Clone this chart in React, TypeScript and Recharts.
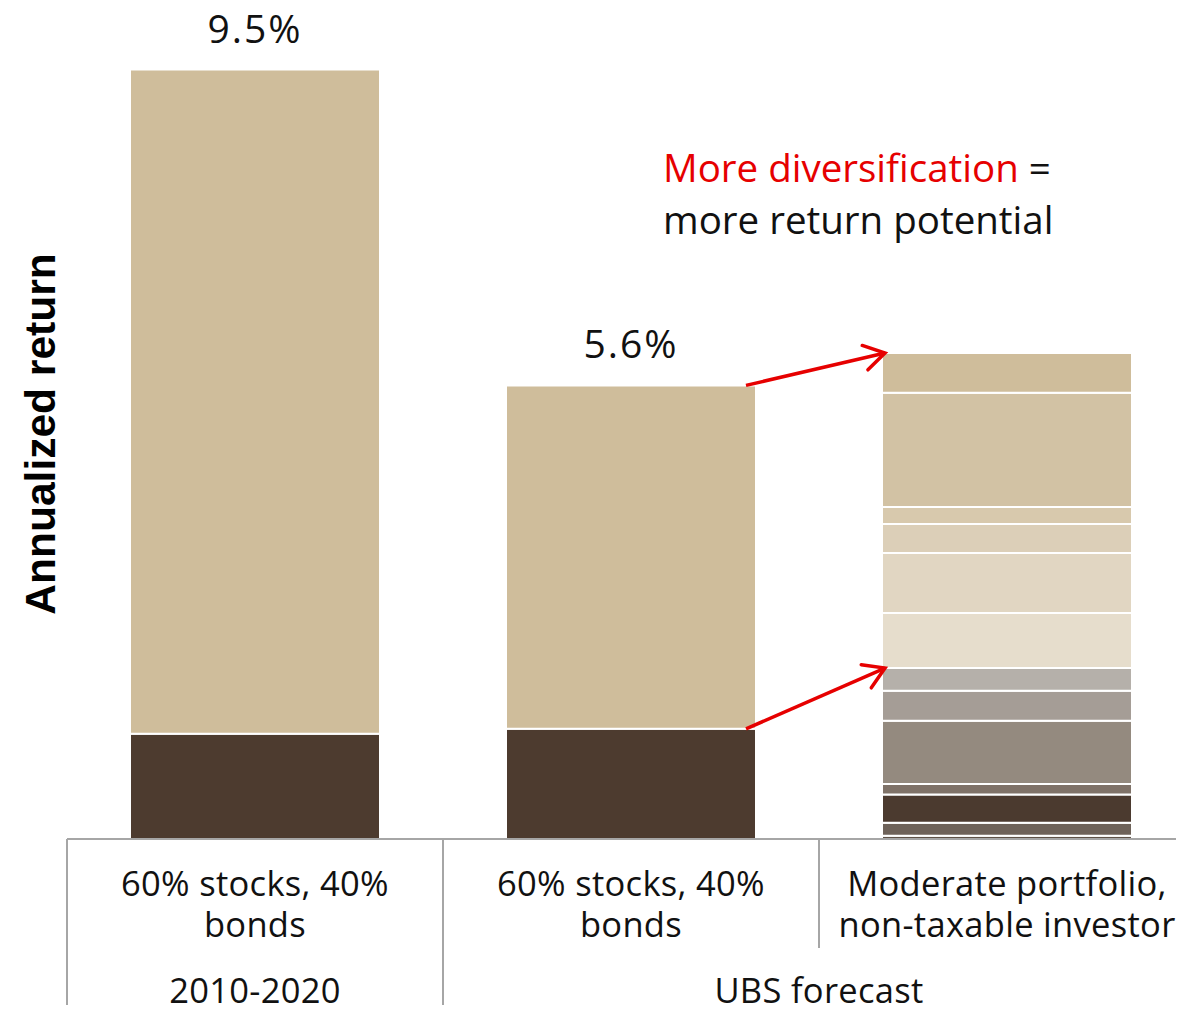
import React from 'react';
import { BarChart, Bar, XAxis, YAxis, LabelList, ReferenceLine } from 'recharts';

// categories on the x axis
const categories = ['hist6040', 'ubs6040', 'ubsModerate'];
const categoryLine1 = ['60% stocks, 40%', '60% stocks, 40%', 'Moderate portfolio,'];
const categoryLine2 = ['bonds', 'bonds', 'non-taxable investor'];
const periodLabels = ['2010-2020', 'UBS forecast'];

// annualized return contributions, in %
const bondReturn = [1.3, 1.36, 0];
const stockReturn = [8.2, 4.24, 0];
// moderate portfolio building blocks, bottom to top
const moderateBlocks = [0.04, 0.16, 0.35, 0.13, 0.78, 0.37, 0.28, 0.68, 0.74, 0.36, 0.21, 1.41, 0.49];
const lowerBlockCount = 7;

const BAR_SIZE = 250;
const FONT = '"Open Sans", "Noto Sans", sans-serif';
const RED = '#e60000';
const AXIS_GREY = '#a6a6a6';

const blockColors = [
  '#5e5147', '#6e6259', '#4b3a2f', '#7f7268', '#948a7f', '#a59d96', '#b5b0aa',
  '#e6ddcc', '#e1d6c2', '#dccfb8', '#d8c9ad', '#d2c2a4', '#cfbd9b',
];

const sum = (arr: number[]) => arr.reduce((a, b) => a + b, 0);
const totals = categories.map((_, i) => bondReturn[i] + stockReturn[i] + (i === 2 ? sum(moderateBlocks) : 0));

const data = categories.map((key, i) => {
  const row: any = { key, bonds: bondReturn[i], stocks: stockReturn[i] };
  moderateBlocks.forEach((v, j) => {
    row[`m${j}`] = i === 2 ? v : 0;
  });
  return row;
});

const CategoryTick = (props: any) => {
  const { x, y, payload, index } = props;
  const half = payload && payload.offset ? payload.offset : 188;
  const left = x - half;
  const textStyle = { fontFamily: FONT, fontSize: 34.5, letterSpacing: 0.3, fill: '#111' };
  return (
    <g>
      <line x1={left} x2={left} y1={y} y2={index === 2 ? y + 109 : y + 180} stroke={AXIS_GREY} strokeWidth={2} />
      <text x={x} y={y + 57} textAnchor="middle" style={textStyle}>{categoryLine1[index]}</text>
      <text x={x} y={y + 98} textAnchor="middle" style={textStyle}>{categoryLine2[index]}</text>
      {index === 0 && (
        <text x={x} y={y + 164} textAnchor="middle" style={textStyle}>{periodLabels[0]}</text>
      )}
      {index === 1 && (
        <text x={x + half} y={y + 164} textAnchor="middle" style={textStyle}>{periodLabels[1]}</text>
      )}
    </g>
  );
};

const TotalLabel = (which: number[]) => (props: any) => {
  const { index } = props;
  if (!which.includes(index)) return null;
  const vb = props.viewBox || props;
  return (
    <text
      x={vb.x + vb.width / 2}
      y={vb.y - 27}
      textAnchor="middle"
      style={{ fontFamily: FONT, fontSize: 39, letterSpacing: 2, fill: '#111' }}
    >
      {`${totals[index].toFixed(1)}%`}
    </text>
  );
};

const Arrow = (props: any) => {
  const { x1, y1, x2, y2 } = props;
  const sx = x1 + BAR_SIZE / 2 - 10;
  const ex = x2 - BAR_SIZE / 2 + 3;
  const ang = Math.atan2(y2 - y1, ex - sx);
  const head = 24;
  const spread = 0.55;
  const a = [ex - head * Math.cos(ang - spread), y2 - head * Math.sin(ang - spread)];
  const b = [ex - head * Math.cos(ang + spread), y2 - head * Math.sin(ang + spread)];
  return (
    <g>
      <line x1={sx} y1={y1} x2={ex} y2={y2} stroke={RED} strokeWidth={3.5} />
      <polyline
        points={`${a[0]},${a[1]} ${ex},${y2} ${b[0]},${b[1]}`}
        fill="none"
        stroke={RED}
        strokeWidth={3.5}
        strokeLinecap="round"
      />
    </g>
  );
};

const YTitle = (props: any) => {
  const vb = props.viewBox;
  const cx = vb.x + 40;
  const cy = vb.y + vb.height / 2;
  return (
    <text
      x={cx}
      y={cy}
      transform={`rotate(-90 ${cx} ${cy})`}
      textAnchor="middle"
      dominantBaseline="central"
      style={{ fontFamily: '"Liberation Sans", Arial, sans-serif', fontWeight: 700, fontSize: 42.5, fill: '#000' }}
    >
      Annualized return
    </text>
  );
};

export default function App() {
  return (
    <div style={{ position: 'relative', width: 1184, height: 1013, margin: -8, overflow: 'hidden', background: '#fff' }}>
      <BarChart
        width={1200}
        height={1013}
        data={data}
        margin={{ top: 29, right: 5, bottom: 0, left: 0 }}
        barSize={BAR_SIZE}
      >
        <XAxis
          dataKey="key"
          axisLine={{ stroke: AXIS_GREY, strokeWidth: 2 }}
          tickLine={false}
          tickSize={0}
          tickMargin={0}
          height={174}
          interval={0}
          tick={(p: any) => <CategoryTick {...p} />}
        />
        <YAxis
          domain={[0, 10]}
          width={67}
          tick={false}
          axisLine={false}
          tickLine={false}
          label={{ content: (p: any) => <YTitle {...p} /> }}
        />
        <Bar dataKey="bonds" stackId="r" fill="#4d3b2f" stroke="#fff" strokeWidth={2} isAnimationActive={false} />
        <Bar dataKey="stocks" stackId="r" fill="#cfbd9b" stroke="#fff" strokeWidth={2} isAnimationActive={false}>
          <LabelList content={TotalLabel([0, 1])} />
        </Bar>
        {moderateBlocks.map((_, j) => (
          <Bar
            key={j}
            dataKey={`m${j}`}
            stackId="r"
            fill={blockColors[j]}
            stroke="#fff"
            strokeWidth={2}
            isAnimationActive={false}
          >
            {j === moderateBlocks.length - 1 && <LabelList content={TotalLabel([2])} />}
          </Bar>
        ))}
        <ReferenceLine
          segment={[
            { x: categories[1], y: totals[1] },
            { x: categories[2], y: totals[2] },
          ]}
          shape={(p: any) => <Arrow {...p} />}
        />
        <ReferenceLine
          segment={[
            { x: categories[1], y: bondReturn[1] },
            { x: categories[2], y: sum(moderateBlocks.slice(0, lowerBlockCount)) },
          ]}
          shape={(p: any) => <Arrow {...p} />}
        />
      </BarChart>
      <div
        style={{
          position: 'absolute',
          left: 663,
          top: 141,
          fontFamily: FONT,
          fontSize: 38.5,
          lineHeight: '52px',
          color: '#111',
          whiteSpace: 'nowrap',
        }}
      >
        <span style={{ color: RED }}>More diversification</span> =
        <br />
        more return potential
      </div>
    </div>
  );
}
